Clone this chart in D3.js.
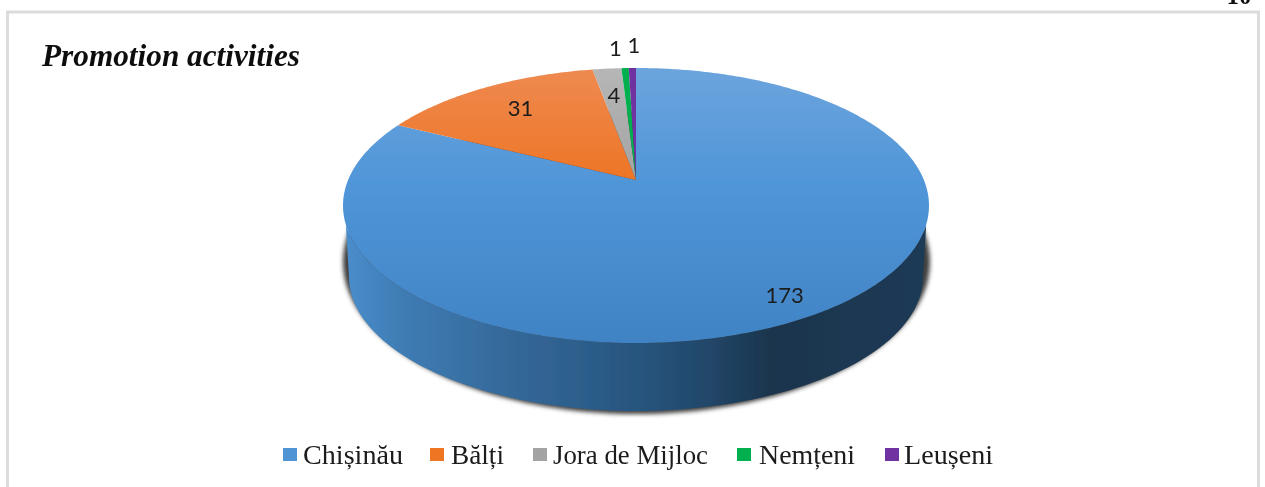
<!DOCTYPE html>
<html><head><meta charset="utf-8">
<style>html,body{margin:0;padding:0;background:#fff;overflow:hidden}svg{display:block}</style>
<script src="https://cdn.jsdelivr.net/npm/d3@7/dist/d3.min.js"></script>
</head><body><svg id="c" width="1265" height="487"></svg>
<script>
const categories = ["Chișinău","Bălți","Jora de Mijloc","Nemțeni","Leușeni"];
const values = [173,31,4,1,1];
const colorsTop = ["#6ca4dd","#ee8a50","#b6b6b6","#00b050","#7030a0"];
const colorsMid = ["#5096d8","#ee7424","#a3a3a3","#00b050","#7030a0"];
const colorsBot = ["#4083c4","#d8601a","#999999","#00a84c","#6a2c98"];
const titleText = "Promotion activities";

const W=1265,H=487;
const root0=d3.select("#c");
const defs=root0.append("defs");
const soft=defs.append("filter").attr("id","soft").attr("filterUnits","userSpaceOnUse")
  .attr("x",0).attr("y",0).attr("width",W).attr("height",H);
soft.append("feGaussianBlur").attr("stdDeviation",0.5);
const svg=root0.append("g").attr("filter","url(#soft)");

const sx=d3.scaleLinear().domain([-1,1]).range([343,929]);
const sy=d3.scaleLinear().domain([1,-1]).range([68,343]);
const sxB=d3.scaleLinear().domain([-1,1]).range([349,923]);
const syB=d3.scaleLinear().domain([1,-1]).range([143,411]);
const sxS=d3.scaleLinear().domain([-1,1]).range([343,930]);
const syS=d3.scaleLinear().domain([1,-1]).range([110,414]);
const t=0.185;

function project(angle,f){
  const a=Math.sin(angle)*f,b=Math.cos(angle)*f,d=1+t*b;
  return [sx(a*Math.sqrt(1-t*t)/d),sy((b+t)/d)];
}
const pie=d3.pie().value(d=>d).sort(null)(values);
const line=d3.line();

svg.append("rect").attr("x",0).attr("y",0).attr("width",W).attr("height",H).attr("fill","#fff");
svg.append("rect").attr("x",7.5).attr("y",12).attr("width",1251).attr("height",490)
  .attr("fill","#fff").attr("stroke","#dcdcdc").attr("stroke-width",3);

svg.append("text").attr("x",1239).attr("y",4).attr("text-anchor","middle")
  .attr("font-family","Liberation Serif").attr("font-weight","bold").attr("font-size",25).attr("fill","#111").text("10");

const blur=defs.append("filter").attr("id","sh").attr("x","-5%").attr("y","-5%").attr("width","110%").attr("height","110%");
blur.append("feGaussianBlur").attr("stdDeviation",2);

const ring=d3.range(0,361,2).map(d=>d*Math.PI/180);
svg.append("path").attr("filter","url(#sh)").attr("fill","#3f3f3f")
  .attr("d",line(ring.map(a=>[sxS(Math.cos(a)),syS(Math.sin(a))])));

const wallGrad=defs.append("linearGradient").attr("id","wall").attr("gradientUnits","userSpaceOnUse")
  .attr("x1",343).attr("x2",929).attr("y1",0).attr("y2",0);
[[0,"#4a8ecd"],[0.1,"#3f7cb4"],[0.25,"#366c9e"],[0.45,"#2a5a86"],[0.6,"#234a6e"],[0.73,"#1b354e"],[1,"#1d3a56"]]
  .forEach(s=>wallGrad.append("stop").attr("offset",s[0]).attr("stop-color",s[1]));
const liftDeg=8;
const frontTop=d3.range(180-liftDeg,liftDeg-0.01,-2).map(d=>{const a=d*Math.PI/180;return [sx(Math.cos(a)),sy(-Math.sin(a))];});
const frontBot=d3.range(0,180.01,2).map(d=>{const a=d*Math.PI/180;return [sxB(Math.cos(a)),syB(-Math.sin(a))];});
svg.append("path").attr("fill","url(#wall)").attr("d",line(frontTop.concat(frontBot))+"Z");

pie.forEach((p,i)=>{
  const g=defs.append("linearGradient").attr("id","g"+i).attr("gradientUnits","userSpaceOnUse")
    .attr("x1",0).attr("x2",0).attr("y1",sy(1)).attr("y2",sy(-1));
  g.append("stop").attr("offset",0).attr("stop-color",colorsTop[i]);
  g.append("stop").attr("offset",0.42).attr("stop-color",colorsMid[i]);
  g.append("stop").attr("offset",1).attr("stop-color",colorsBot[i]);
  const n=Math.max(2,Math.ceil((p.endAngle-p.startAngle)*90));
  const pts=d3.range(n+1).map(k=>project(p.startAngle+(p.endAngle-p.startAngle)*k/n,1));
  svg.append("path").attr("fill",`url(#g${i})`)
    .attr("d",line([project(0,0)].concat(pts))+"Z");
});

const labelRadial=[0.87,0.75,0.73,1.2,1.2];
const labelNudge=[[-4,1],[1,0],[0,0],[-8,-2],[2,-5]];
pie.forEach((p,i)=>{
  const m=(p.startAngle+p.endAngle)/2,q=project(m,labelRadial[i]);
  svg.append("text").attr("x",q[0]+labelNudge[i][0]).attr("y",q[1]+labelNudge[i][1]).attr("dy","0.36em")
    .attr("text-anchor","middle").attr("font-family","Lato").attr("font-size",22).attr("fill","#1c1c1c")
    .text(values[i]);
});

svg.append("text").attr("x",42).attr("y",66).attr("font-family","Liberation Serif")
  .attr("font-weight","bold").attr("font-style","italic").attr("font-size",31).attr("fill","#111")
  .attr("textLength",258).attr("lengthAdjust","spacingAndGlyphs").text(titleText);

const swatchX=[283,430,533,737,885];
const textX=[303,451,553,759,904];
const textW=[100,53,155,96,89];
const legY=d3.scaleLinear().domain([0,1]).range([448,461]);
categories.forEach((c,i)=>{
  svg.append("rect").attr("x",swatchX[i]).attr("y",legY(0)).attr("width",14).attr("height",legY(1)-legY(0))
    .attr("fill",colorsMid[i]==="#5096d8"?"#4f95d6":colorsMid[i]);
  svg.append("text").attr("x",textX[i]).attr("y",464).attr("font-family","Liberation Serif")
    .attr("font-size",28).attr("fill","#1a1a1a").attr("textLength",textW[i]).attr("lengthAdjust","spacingAndGlyphs").text(c);
});
</script></body></html>
